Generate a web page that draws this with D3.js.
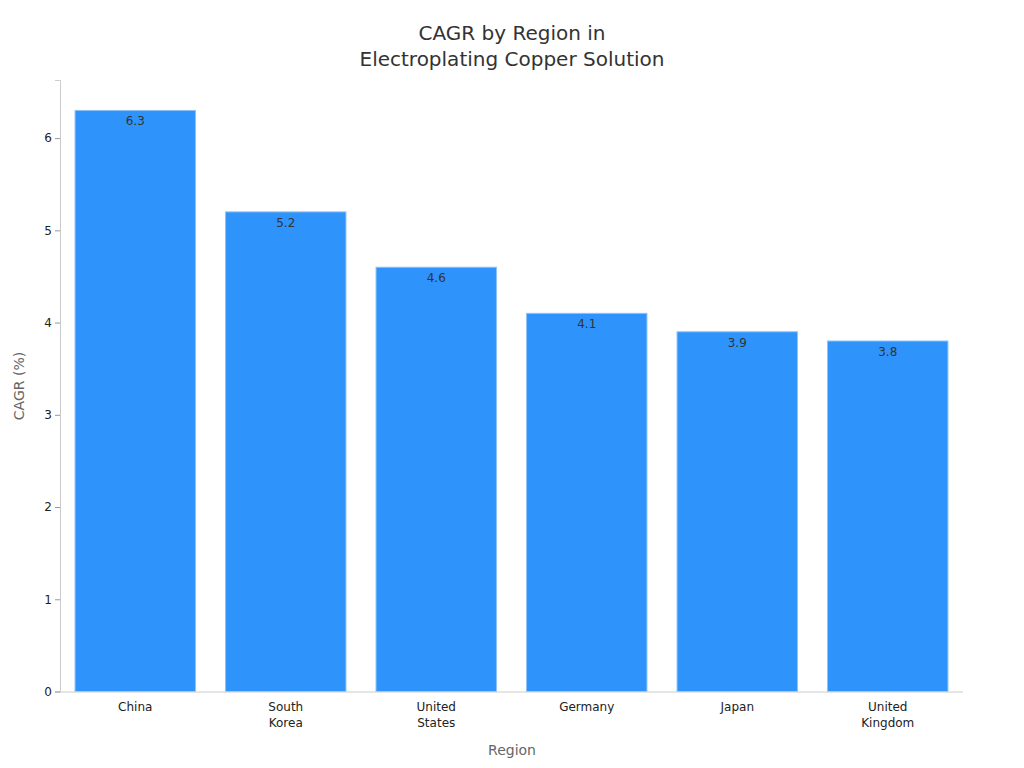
<!DOCTYPE html>
<html><head><meta charset="utf-8">
<script src="https://cdn.jsdelivr.net/npm/d3@7"></script>
<style>body{margin:0;background:#fff;font-family:"DejaVu Sans",sans-serif}</style>
</head><body><svg id="c" width="1024" height="768"></svg>
<script>
const categories = ["China","South Korea","United States","Germany","Japan","United Kingdom"];
const values = [6.3,5.2,4.6,4.1,3.9,3.8];
const yTicks = [0,1,2,3,4,5,6];

const svg = d3.select("#c");
const m = {l:60, r:963, t:80, b:691.5};
const x = d3.scaleBand().domain(categories).range([m.l,m.r]).paddingInner(0.2).paddingOuter(0.1);
const y = d3.scaleLinear().domain([0,6.63]).range([m.b,m.t]);

svg.append("text").attr("x",512).attr("y",40).attr("text-anchor","middle").attr("font-size",20).attr("fill","#333").text("CAGR by Region in");
svg.append("text").attr("x",512).attr("y",66).attr("text-anchor","middle").attr("font-size",20).attr("fill","#333").text("Electroplating Copper Solution");

svg.selectAll("rect.bar").data(values).join("rect").attr("class","bar")
  .attr("x",(d,i)=>x(categories[i])).attr("width",x.bandwidth())
  .attr("y",d=>y(d)).attr("height",d=>y(0)-y(d))
  .attr("fill","#2E93FA").attr("stroke","#8cc2f5").attr("stroke-width",1);
svg.selectAll("text.val").data(values).join("text").attr("class","val")
  .attr("x",(d,i)=>x(categories[i])+x.bandwidth()/2).attr("y",d=>y(d)+15)
  .attr("text-anchor","middle").attr("font-size",12).attr("fill","#333").text(d=>d.toFixed(1));

const ya = svg.append("g").attr("transform",`translate(${m.l},0)`).call(d3.axisLeft(y).tickValues(yTicks).tickSize(5).tickFormat(d3.format("d")));
ya.select(".domain").attr("stroke","#ccc");
ya.selectAll(".tick line").attr("stroke","#999");
ya.selectAll("text").attr("font-size",12).attr("fill","#222").attr("font-family","DejaVu Sans");

const xa = svg.append("g").attr("transform",`translate(0,${m.b})`).call(d3.axisBottom(x).tickSize(0).tickSizeOuter(0));
xa.select(".domain").attr("stroke","#ccc").attr("d",`M${m.l},0.5H${m.r}`);
xa.selectAll(".tick text").attr("font-size",12).attr("fill","#222").attr("font-family","DejaVu Sans").each(function(d){
  const t=d3.select(this); const w=d.split(" "); t.text(null);
  w.forEach((s,i)=>t.append("tspan").attr("x",0).attr("dy",i?"1.3em":"1.4em").text(s));
});

svg.append("text").attr("x",512).attr("y",755).attr("text-anchor","middle").attr("font-size",14).attr("fill","#666").text("Region");
svg.append("text").attr("transform","translate(24,386) rotate(-90)").attr("text-anchor","middle").attr("font-size",14).attr("fill","#666").text("CAGR (%)");
</script></body></html>
